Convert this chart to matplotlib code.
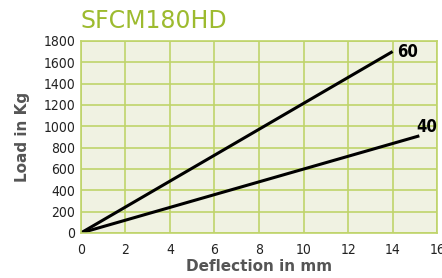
import matplotlib
matplotlib.use("Agg")
import matplotlib.pyplot as plt
from matplotlib import font_manager

# data
defl_60 = [0, 14.0]
load_60 = [0, 1700]
defl_40 = [0, 15.2]
load_40 = [0, 910]
xticks = [0, 2, 4, 6, 8, 10, 12, 14, 16]
yticks = [0, 200, 400, 600, 800, 1000, 1200, 1400, 1600, 1800]

green = "#9dbb2f"
grid_green = "#bfd46a"
bg = "#f0f2e2"

names = {f.name for f in font_manager.fontManager.ttflist}
narrow = [n for n in ["Liberation Sans Narrow", "DejaVu Sans"] if n in names] or ["DejaVu Sans"]
stretch = "normal" if narrow[0] == "Liberation Sans Narrow" else "condensed"

fig = plt.figure(figsize=(4.42, 2.78), dpi=100)
ax = fig.add_axes([0.183, 0.162, 0.806, 0.691])
ax.set_facecolor(bg)

ax.plot(defl_60, load_60, color="black", lw=2.2, solid_capstyle="butt")
ax.plot(defl_40, load_40, color="black", lw=2.2, solid_capstyle="butt")
ax.text(14.2, 1700, "60", fontsize=12, fontweight="bold", family=narrow, stretch=stretch,
        va="center", ha="left")
ax.text(15.55, 990, "40", fontsize=12, fontweight="bold", family=narrow, stretch=stretch,
        va="center", ha="center")

ax.set_xlim(0, 16)
ax.set_ylim(0, 1800)
ax.set_xticks(xticks)
ax.set_yticks(yticks)
ax.grid(True, color=grid_green, lw=1.2)
ax.set_axisbelow(True)
for s in ax.spines.values():
    s.set_color(grid_green)
    s.set_linewidth(1.2)
ax.tick_params(length=0, pad=4, labelsize=10, labelcolor="#222222")
ax.tick_params(axis="x", pad=7)
for lab in ax.get_xticklabels() + ax.get_yticklabels():
    lab.set_family(narrow)
    lab.set_stretch(stretch)

ax.set_xlabel("Deflection in mm", fontsize=11, fontweight="bold", color="#555555", labelpad=2)
ax.set_ylabel("Load in Kg", fontsize=11, fontweight="bold", color="#555555", labelpad=10)

fig.text(0.181, 0.925, "SFCM180HD", fontsize=17, color=green, ha="left", va="center")

fig.savefig("out.png", dpi=100)
